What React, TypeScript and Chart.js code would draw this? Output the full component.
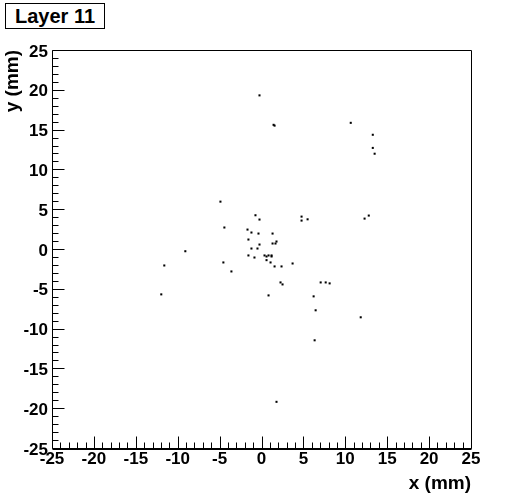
import React, { useEffect, useRef } from 'react';
import { Chart, registerables } from 'chart.js';
Chart.register(...registerables);

const chartTitle = 'Layer 11';
const xAxisTitle = 'x (mm)';
const yAxisTitle = 'y (mm)';
const axisMin = -25;
const axisMax = 25;
const majorStep = 5;

const xValues = [
  -0.24, 1.44, 1.56, 10.65, 13.28, 13.28, 13.5, -4.9, -0.72, -0.24,
  4.78, 4.78, 5.5, 12.3, 12.8, -4.43, -1.67, -1.2, -0.36, 1.32,
  -1.56, -0.24, 1.32, 1.67, 1.79, -9.09, -1.2, -0.48, -4.55, -1.56,
  -0.84, 0.36, 0.6, 0.84, 1.2, 1.2, 0.6, 1.08, 1.56, 2.39,
  3.71, -11.6, -3.59, 2.27, 2.51, 7.06, 7.66, 8.13, -11.96, 0.84,
  6.22, 6.46, 11.84, 6.34, 1.79,
];
const yValues = [
  19.3, 15.6, 15.5, 15.85, 14.35, 12.7, 11.97, 5.95, 4.24, 3.7,
  4.07, 3.57, 3.73, 3.82, 4.2, 2.7, 2.44, 2.07, 1.94, 1.94,
  1.19, 0.56, 0.69, 0.69, 0.94, -0.28, 0.06, 0.06, -1.69, -0.81,
  -1.07, -0.81, -0.94, -0.81, -0.81, -0.94, -1.4, -1.69, -2.19, -2.19,
  -1.82, -2.07, -2.82, -4.2, -4.45, -4.2, -4.2, -4.32, -5.7, -5.83,
  -5.95, -7.7, -8.58, -11.47, -19.2,
];

const FONT = "'Liberation Sans', Arial, Helvetica, sans-serif";

const frameTicks = {
  id: 'frameTicks',
  afterDraw(chart: any) {
    const { ctx, chartArea, scales } = chart;
    const { left, right, top, bottom } = chartArea;
    const x = scales.x;
    const y = scales.y;
    ctx.save();
    ctx.strokeStyle = '#000';
    ctx.lineWidth = 1;
    const L = Math.round(left) + 0.5;
    const R = Math.round(right) + 0.5;
    const T = Math.round(top) + 0.5;
    const B = Math.round(bottom) + 0.5;
    ctx.beginPath();
    ctx.rect(L, T, R - L, B - T);
    ctx.moveTo(L, B + 1);
    ctx.lineTo(R, B + 1);
    for (let v = axisMin; v <= axisMax; v++) {
      const len = v % majorStep === 0 ? 12 : 6;
      const px = Math.round(x.getPixelForValue(v)) + 0.5;
      ctx.moveTo(px, B);
      ctx.lineTo(px, B - len);
      const py = Math.round(y.getPixelForValue(v)) + 0.5;
      ctx.moveTo(L, py);
      ctx.lineTo(L + len, py);
    }
    ctx.stroke();
    ctx.restore();
  },
};

export default function App() {
  const ref = useRef<HTMLCanvasElement | null>(null);
  useEffect(() => {
    if (!ref.current) return;
    const data = xValues.map((xv, i) => ({ x: xv, y: yValues[i] }));
    const chart = new Chart(ref.current, {
      type: 'scatter',
      data: {
        datasets: [
          {
            data,
            pointStyle: 'rect',
            pointRadius: 1.45,
            borderWidth: 0,
            backgroundColor: '#000',
            borderColor: '#000',
          },
        ],
      },
      options: {
        animation: false,
        responsive: false,
        maintainAspectRatio: false,
        events: [],
        layout: { padding: { top: 50, right: 53, left: 0, bottom: 0 } },
        plugins: { legend: { display: false }, tooltip: { enabled: false }, title: { display: false } },
        scales: {
          x: {
            type: 'linear',
            min: axisMin,
            max: axisMax,
            grid: { display: false, drawTicks: false },
            border: { display: false },
            ticks: {
              stepSize: majorStep,
              color: '#000',
              font: { family: FONT, size: 17, weight: 'bold' },
              padding: 1,
              maxRotation: 0,
              autoSkip: false,
            },
            title: {
              display: true,
              text: xAxisTitle,
              align: 'end',
              color: '#000',
              font: { family: FONT, size: 19, weight: 'bold' },
              padding: { top: 0, bottom: 5 },
            },
            afterFit: (s: any) => {
              s.height = 52;
            },
          },
          y: {
            type: 'linear',
            min: axisMin,
            max: axisMax,
            grid: { display: false, drawTicks: false },
            border: { display: false },
            ticks: {
              stepSize: majorStep,
              color: '#000',
              font: { family: FONT, size: 17, weight: 'bold' },
              padding: 4,
              labelOffset: 2,
              autoSkip: false,
            },
            title: {
              display: true,
              text: yAxisTitle,
              align: 'end',
              color: '#000',
              font: { family: FONT, size: 19, weight: 'bold' },
              padding: { top: 1, bottom: 0 },
            },
            afterFit: (s: any) => {
              s.width = 52;
            },
          },
        },
      },
      plugins: [frameTicks],
    });
    return () => chart.destroy();
  }, []);

  return (
    <div style={{ position: 'absolute', left: 0, top: 0, width: 524, height: 500, background: '#fff' }}>
      <canvas ref={ref} width={524} height={500} style={{ display: 'block', width: 524, height: 500 }} />
      <div
        style={{
          position: 'absolute',
          left: 5,
          top: 3,
          width: 98,
          height: 24,
          border: '1px solid #000',
          background: '#fff',
          fontFamily: FONT,
          fontWeight: 'bold',
          fontSize: 20,
          lineHeight: '24px',
          textAlign: 'center',
          color: '#000',
        }}
      >
        {chartTitle}
      </div>
    </div>
  );
}
